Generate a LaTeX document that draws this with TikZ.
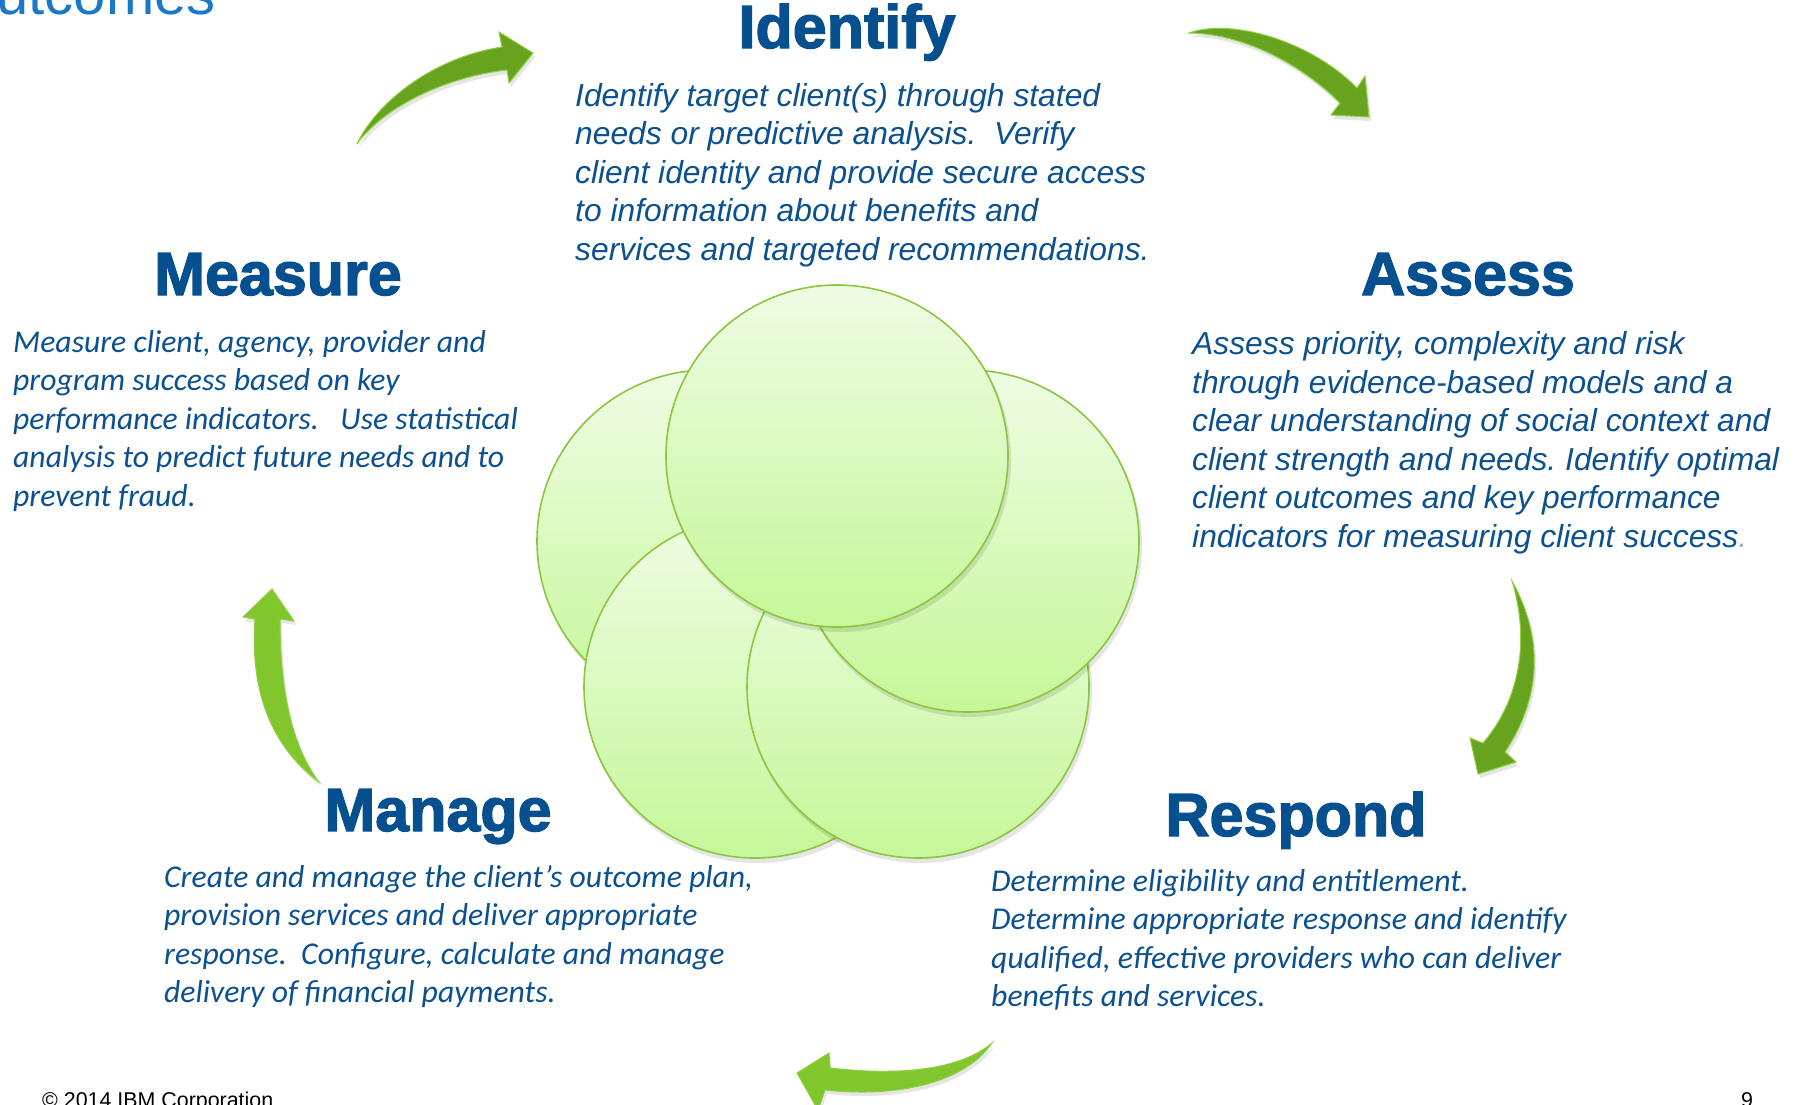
\documentclass[tikz,border=0pt]{standalone}
\usepackage{fontspec}
\setmainfont{Liberation Sans}
\newfontfamily\arialf{Liberation Sans}
\newfontfamily\calf{Carlito}
\newfontfamily\titlef{Liberation Sans}[BoldFeatures={FakeBold=2.2}]
\definecolor{titleblue}{HTML}{07508F}
\definecolor{bodyblue}{HTML}{0B5191}
\definecolor{outblue}{HTML}{1A78C6}
\definecolor{dotblue}{HTML}{8DB3E2}
\definecolor{circtop}{HTML}{EFFCE4}
\definecolor{circbot}{HTML}{C6F799}
\definecolor{circline}{HTML}{8CC63F}
\definecolor{arrdark}{HTML}{68A320}
\definecolor{arrlight}{HTML}{80C62C}
\definecolor{arredge}{HTML}{8FD040}
\begin{document}
\frenchspacing
\begin{tikzpicture}[x=1pt,y=-1pt,
  title/.style={font=\titlef\bfseries\fontsize{61}{61}\selectfont, text=titleblue, inner sep=0pt, anchor=base},
  bodyA/.style={font=\arialf\itshape\fontsize{31.8}{38.5}\selectfont, text=bodyblue, align=left, inner sep=0pt, anchor=base west},
  bodyC/.style={font=\calf\itshape\fontsize{31.7}{38.4}\selectfont, text=bodyblue, align=left, inner sep=0pt, anchor=base west},
  circ/.style={draw=circline, line width=1.6pt, top color=circtop, bottom color=circbot},
  cshadow/.style={fill=black, opacity=0.10},
  arrD/.style={fill=arrdark, draw=arredge, line width=1pt},
  arrL/.style={fill=arrlight, draw=arredge, line width=1pt},
  ashadow/.style={fill=black, opacity=0.10},
]
\useasboundingbox (0,0) rectangle (1802,1104);
\fill[white] (0,0) rectangle (1802,1104);
\clip (0,0) rectangle (1802,1104);

% header fragment
\node[font=\arialf\fontsize{58}{60}\selectfont, text=outblue, anchor=base west, inner sep=0pt] (outc) at (-36,14) {outcomes};

% circles (back to front)
\fill[cshadow] (710,545) circle[radius=172pt];
\draw[circ] (708,541) circle[radius=171pt];
\fill[cshadow] (757,691) circle[radius=172pt];
\draw[circ] (755,687) circle[radius=171pt];
\fill[cshadow] (920,691) circle[radius=172pt];
\draw[circ] (918,687) circle[radius=171pt];
\fill[cshadow] (970,545) circle[radius=172pt];
\draw[circ] (968,541) circle[radius=171pt];
\fill[cshadow] (839,460) circle[radius=172pt];
\draw[circ] (837,456) circle[radius=171pt];

% arrows
\begin{scope}[shift={(2,4)}]
\fill[ashadow] (357,144) .. controls (375,105) and (430,58) .. (502,47) -- (499,32) -- (533,53) -- (509,83) -- (507,70) .. controls (450,76) and (385,105) .. cycle;
\fill[ashadow] (1189,33) .. controls (1230,18) and (1310,40) .. (1357,88) -- (1365,76) -- (1369,117) -- (1331,115) -- (1340,103) .. controls (1295,58) and (1235,33) .. cycle;
\fill[ashadow] (1512,581) .. controls (1545,640) and (1540,700) .. (1505,752) -- (1516,762) -- (1478,774) -- (1470,738) -- (1483,743) .. controls (1520,700) and (1530,640) .. cycle;
\fill[ashadow] (992,1043) .. controls (960,1070) and (900,1076) .. (830,1068) -- (829,1053) -- (797,1073) -- (818,1110) -- (825,1090) .. controls (900,1098) and (965,1082) .. cycle;
\fill[ashadow] (272,589) -- (294,621) -- (280,619) .. controls (280,700) and (295,750) .. (319,782) .. controls (270,745) and (250,690) .. (255,619) -- (243,617) -- cycle;
\end{scope}
\filldraw[arrD] (357,144) .. controls (375,105) and (430,58) .. (502,47) -- (499,32) -- (533,53) -- (509,83) -- (507,70) .. controls (450,76) and (385,105) .. cycle;
\filldraw[arrD] (1189,33) .. controls (1230,18) and (1310,40) .. (1357,88) -- (1365,76) -- (1369,117) -- (1331,115) -- (1340,103) .. controls (1295,58) and (1235,33) .. cycle;
\filldraw[arrD] (1512,581) .. controls (1545,640) and (1540,700) .. (1505,752) -- (1516,762) -- (1478,774) -- (1470,738) -- (1483,743) .. controls (1520,700) and (1530,640) .. cycle;
\filldraw[arrL] (992,1043) .. controls (960,1070) and (900,1076) .. (830,1068) -- (829,1053) -- (797,1073) -- (818,1110) -- (825,1090) .. controls (900,1098) and (965,1082) .. cycle;
\filldraw[arrL] (272,589) -- (294,621) -- (280,619) .. controls (280,700) and (295,750) .. (319,782) .. controls (270,745) and (250,690) .. (255,619) -- (243,617) -- cycle;

% titles
\node[title] (tIdent) at (847,48) {Identify};
\node[title] (tMeas) at (278,295) {Measure};
\node[title] (tAss) at (1468,295) {Assess};
\node[title] (tMan) at (438,831) {Manage};
\node[title] (tResp) at (1296,836) {Respond};

% bodies (anchor = baseline of last line)
\node[bodyA] (bIdent) at (575,260) {Identify target client(s) through stated\\needs or predictive analysis.\ \ Verify\\client identity and provide secure access\\to information about benefits and\\services and targeted recommendations.};
\node[bodyA] (bAss) at (1192,547) {Assess priority, complexity and risk\\through evidence-based models and a\\clear understanding of social context and\\client strength and needs. Identify optimal\\client outcomes and key performance\\indicators for measuring client success\textcolor{dotblue}{.}};
\node[bodyC] (bMeas) at (13,506) {Measure client, agency, provider and\\program success based on key\\performance indicators.\ \ \ Use statistical\\analysis to predict future needs and to\\prevent fraud.};
\node[bodyC] (bMan) at (164,1002.5) {Create and manage the client’s outcome plan,\\provision services and deliver appropriate\\response.\ \ Configure, calculate and manage\\delivery of financial payments.};
\node[bodyC] (bResp) at (991,1006.5) {Determine eligibility and entitlement.\\Determine appropriate response and identify\\qualified, effective providers who can deliver\\benefits and services.};

% footer
\node[font=\arialf\fontsize{21.4}{24}\selectfont, anchor=base west, inner sep=0pt] (copy) at (42,1107) {© 2014 IBM Corporation};
\node[font=\arialf\fontsize{21.4}{24}\selectfont, anchor=base, inner sep=0pt] (pnum) at (1747,1107) {9};
\end{tikzpicture}
\end{document}
